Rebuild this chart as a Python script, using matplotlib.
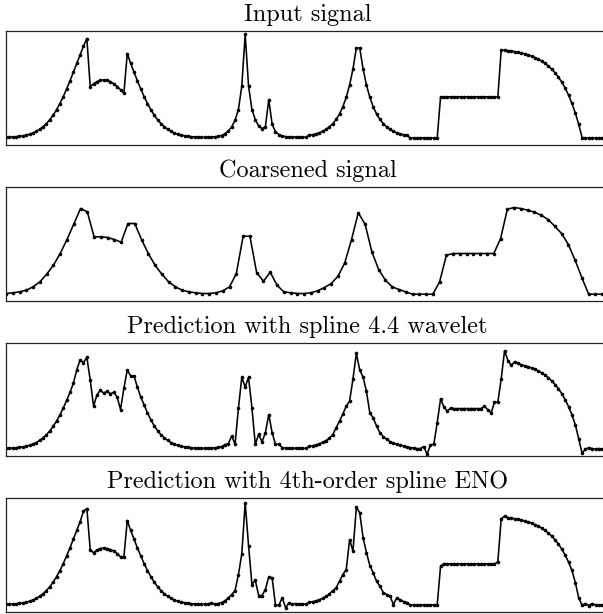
import numpy as np
import matplotlib
matplotlib.use("Agg")
import matplotlib.pyplot as plt

# signal values (height above the zero level, arbitrary units)
input_signal = [
    0.2, 0.35, 0.5, 0.8, 1.2, 1.7, 2.3, 3.3, 4.5, 6.1,
    8.2, 10.8, 13.9, 17.8, 22.4, 27.8, 34.0, 40.9, 48.6, 56.7,
    65.3, 74.1, 82.8, 91.3, 99.0, 51.0, 53.7, 55.9, 57.1, 57.5,
    57.1, 55.9, 53.7, 51.0, 47.8, 44.2, 84.0, 74.1, 65.3, 56.7,
    48.6, 40.9, 34.0, 27.8, 22.4, 17.8, 13.9, 10.8, 8.2, 6.1,
    4.5, 3.3, 2.3, 1.7, 1.2, 0.8, 0.5, 0.35, 0.2, 0.15,
    0.2, 0.4, 0.7, 1.2, 2.0, 3.8, 6.5, 10.7, 17.3, 28.0,
    51.6, 103.3, 51.6, 28.0, 18.0, 11.5, 9.0, 10.7, 38.0, 13.3,
    5.7, 3.0, 1.5, 0.9, 0.6, 0.5, 0.4, 0.3, 0.3, 0.3,
    2.1, 2.8, 3.7, 4.8, 6.2, 8.1, 10.6, 13.9, 18.1, 23.6,
    30.8, 40.2, 52.5, 68.6, 89.5, 89.5, 68.6, 52.5, 40.2, 30.8,
    23.6, 18.1, 13.9, 10.6, 8.1, 6.2, 4.8, 3.7, 2.8, 2.1,
    -0.5, -0.5, -0.5, -0.5, -0.5, -0.5, -0.5, -0.5, -0.5, 40.6,
    40.6, 40.6, 40.6, 40.6, 40.6, 40.6, 40.6, 40.6, 40.6, 40.6,
    40.6, 40.6, 40.6, 40.6, 40.6, 40.6, 40.6, 87.6, 87.3, 86.9,
    86.4, 85.9, 85.3, 84.5, 83.6, 82.6, 81.4, 80.0, 78.4, 76.4,
    74.1, 71.5, 68.3, 64.6, 60.3, 55.3, 49.3, 42.3, 34.1, 24.5,
    13.3, 0.0, -0.5, -0.5, -0.5, -0.5, -0.5, -0.5, -0.5, -0.5,
]

coarse_signal = [
    0.0, 0.7, 1.7, 3.3, 6.7, 11.7, 19.3, 28.3, 40.0, 54.0,
    69.3, 85.0, 81.7, 56.7, 56.7, 56.0, 54.0, 51.3, 70.0, 70.0,
    54.0, 40.0, 28.3, 19.3, 11.7, 6.7, 3.3, 1.7, 0.7, 0.0,
    0.0, 0.7, 2.7, 6.7, 20.0, 57.3, 57.3, 20.7, 12.3, 21.3,
    8.3, 1.7, 0.7, 0.0, 0.0, 0.7, 2.7, 6.0, 10.0, 17.3,
    30.7, 54.0, 80.7, 69.3, 41.7, 24.0, 13.3, 6.7, 4.0, 1.7,
    -0.7, -0.7, -0.7, -0.7, 11.7, 38.3, 40.0, 40.0, 40.0, 40.0,
    40.0, 40.0, 40.0, 55.0, 84.3, 86.0, 85.0, 83.3, 81.3, 78.3,
    74.0, 67.3, 60.0, 49.0, 33.3, 15.7, -0.7, -0.7, -0.7, -0.7,
]

wavelet_signal = [
    0.2, 0.35, 0.5, 0.8, 1.2, 1.7, 2.3, 3.3, 4.5, 6.1,
    8.2, 10.8, 13.9, 17.8, 22.4, 27.8, 34.0, 40.9, 48.6, 56.7,
    66.0, 79.3, 89.3, 86.7, 92.0, 69.3, 42.7, 54.3, 58.7, 56.0,
    57.7, 55.3, 56.7, 52.0, 39.3, 61.0, 79.3, 73.3, 73.3, 62.0,
    52.0, 44.0, 36.0, 29.0, 23.0, 18.0, 14.0, 10.8, 8.2, 6.1,
    4.5, 3.3, 2.3, 1.7, 1.2, 0.8, 0.5, 0.35, 0.2, 0.15,
    0.2, 0.4, 0.7, 1.2, 2.0, 4.0, 5.0, 12.7, 4.3, 41.0,
    72.0, 62.0, 72.0, 41.0, 4.3, 14.3, 6.7, 16.0, 34.3, 16.0,
    4.3, 4.3, 1.0, 0.5, 0.5, 0.4, 0.3, 0.3, 0.3, 0.3,
    2.1, 2.8, 3.7, 4.8, 6.2, 8.1, 10.6, 14.0, 21.0, 27.7,
    35.0, 42.7, 48.0, 70.3, 96.0, 79.3, 72.0, 57.7, 36.0, 31.0,
    22.7, 16.0, 12.0, 9.3, 7.0, 5.5, 4.3, 3.5, 2.8, 2.0,
    1.0, 0.5, 0.0, 0.0, 2.0, -5.7, 3.7, 4.3, 26.0, 50.0,
    42.0, 37.7, 41.0, 40.3, 40.3, 40.3, 40.3, 40.3, 40.3, 40.3,
    40.3, 40.3, 42.7, 39.3, 36.0, 46.7, 46.7, 70.3, 98.7, 88.7,
    84.0, 87.7, 86.0, 84.5, 83.6, 82.6, 81.4, 80.0, 78.4, 76.4,
    74.1, 71.5, 68.3, 64.6, 60.3, 55.3, 49.3, 42.3, 34.1, 24.0,
    10.0, -4.7, -0.7, 1.0, 0.0, -0.7, 0.0, -0.5, -0.5, -0.5,
]

eno_signal = [
    0.2, 0.35, 0.5, 0.8, 1.2, 1.7, 2.3, 3.3, 4.5, 6.1,
    8.2, 10.8, 13.9, 17.8, 22.4, 27.8, 34.0, 40.9, 48.6, 56.7,
    65.3, 74.1, 82.8, 93.3, 96.0, 55.0, 51.7, 54.5, 56.0, 56.5,
    56.0, 55.0, 53.5, 51.0, 47.7, 47.7, 84.0, 74.1, 65.3, 56.7,
    48.6, 40.9, 34.0, 27.8, 22.4, 17.8, 13.9, 10.8, 8.2, 6.1,
    4.5, 3.3, 2.3, 1.7, 1.2, 0.8, 0.5, 0.35, 0.2, 0.15,
    0.5, 1.7, 0.3, 1.0, 2.0, 3.8, 6.5, 10.0, 14.0, 30.0,
    50.7, 101.7, 59.0, 20.0, 24.3, 9.0, 9.0, 15.0, 27.7, 26.7,
    -0.7, -0.7, 6.7, -3.3, 1.7, 0.5, 1.0, 0.3, 0.3, 0.3,
    2.1, 2.8, 3.7, 4.8, 6.2, 8.1, 10.6, 13.9, 16.7, 23.3,
    30.0, 35.0, 65.0, 53.3, 97.3, 91.7, 66.7, 52.0, 39.0, 31.7,
    23.3, 18.3, 12.0, 10.0, 8.3, 0.0, 6.7, 4.5, 3.0, 2.0,
    -0.5, -0.5, -0.5, -0.5, -0.5, -0.5, -0.5, -0.5, -0.5, 38.3,
    41.0, 40.6, 40.6, 40.6, 40.6, 40.6, 40.6, 40.6, 40.6, 40.6,
    40.6, 40.6, 40.6, 40.6, 40.6, 40.6, 42.7, 85.7, 88.3, 87.0,
    86.4, 85.9, 85.3, 84.5, 83.6, 82.6, 81.4, 80.0, 78.4, 76.4,
    74.1, 71.5, 68.3, 64.6, 60.3, 55.3, 49.3, 42.3, 34.1, 22.0,
    6.7, -0.7, 1.0, -1.0, 1.0, -0.5, -0.5, -0.5, -0.5, -0.5,
]

titles = [
    "Input signal",
    "Coarsened signal",
    "Prediction with spline 4.4 wavelet",
    "Prediction with 4th-order spline ENO",
]
signals = [input_signal, coarse_signal, wavelet_signal, eno_signal]

fig = plt.figure(figsize=(6.03, 6.14), dpi=100)

# axes boxes in pixels: (top, bottom); right edge runs a little past the image
boxes = [(31, 145), (187, 301), (343, 456), (498, 612)]
W, H = 603.0, 614.0

for (top, bot), sig, title in zip(boxes, signals, titles):
    ax = fig.add_axes([6 / W, (H - bot) / H, 603 / W, (bot - top) / H])
    x = np.arange(len(sig))
    ax.plot(x, sig, color="black", linewidth=1.15, marker="o",
            markersize=2.6, markeredgewidth=0)
    ax.set_xlim(0, len(sig) - 1)
    ax.set_ylim(-7.5, 106.5)
    ax.set_xticks([])
    ax.set_yticks([])
    for s in ax.spines.values():
        s.set_linewidth(0.9)
        s.set_color("#222222")
    ax.set_title(title, fontfamily="cmr10", fontsize=17.5, pad=7)

fig.savefig("out.png", dpi=100)
